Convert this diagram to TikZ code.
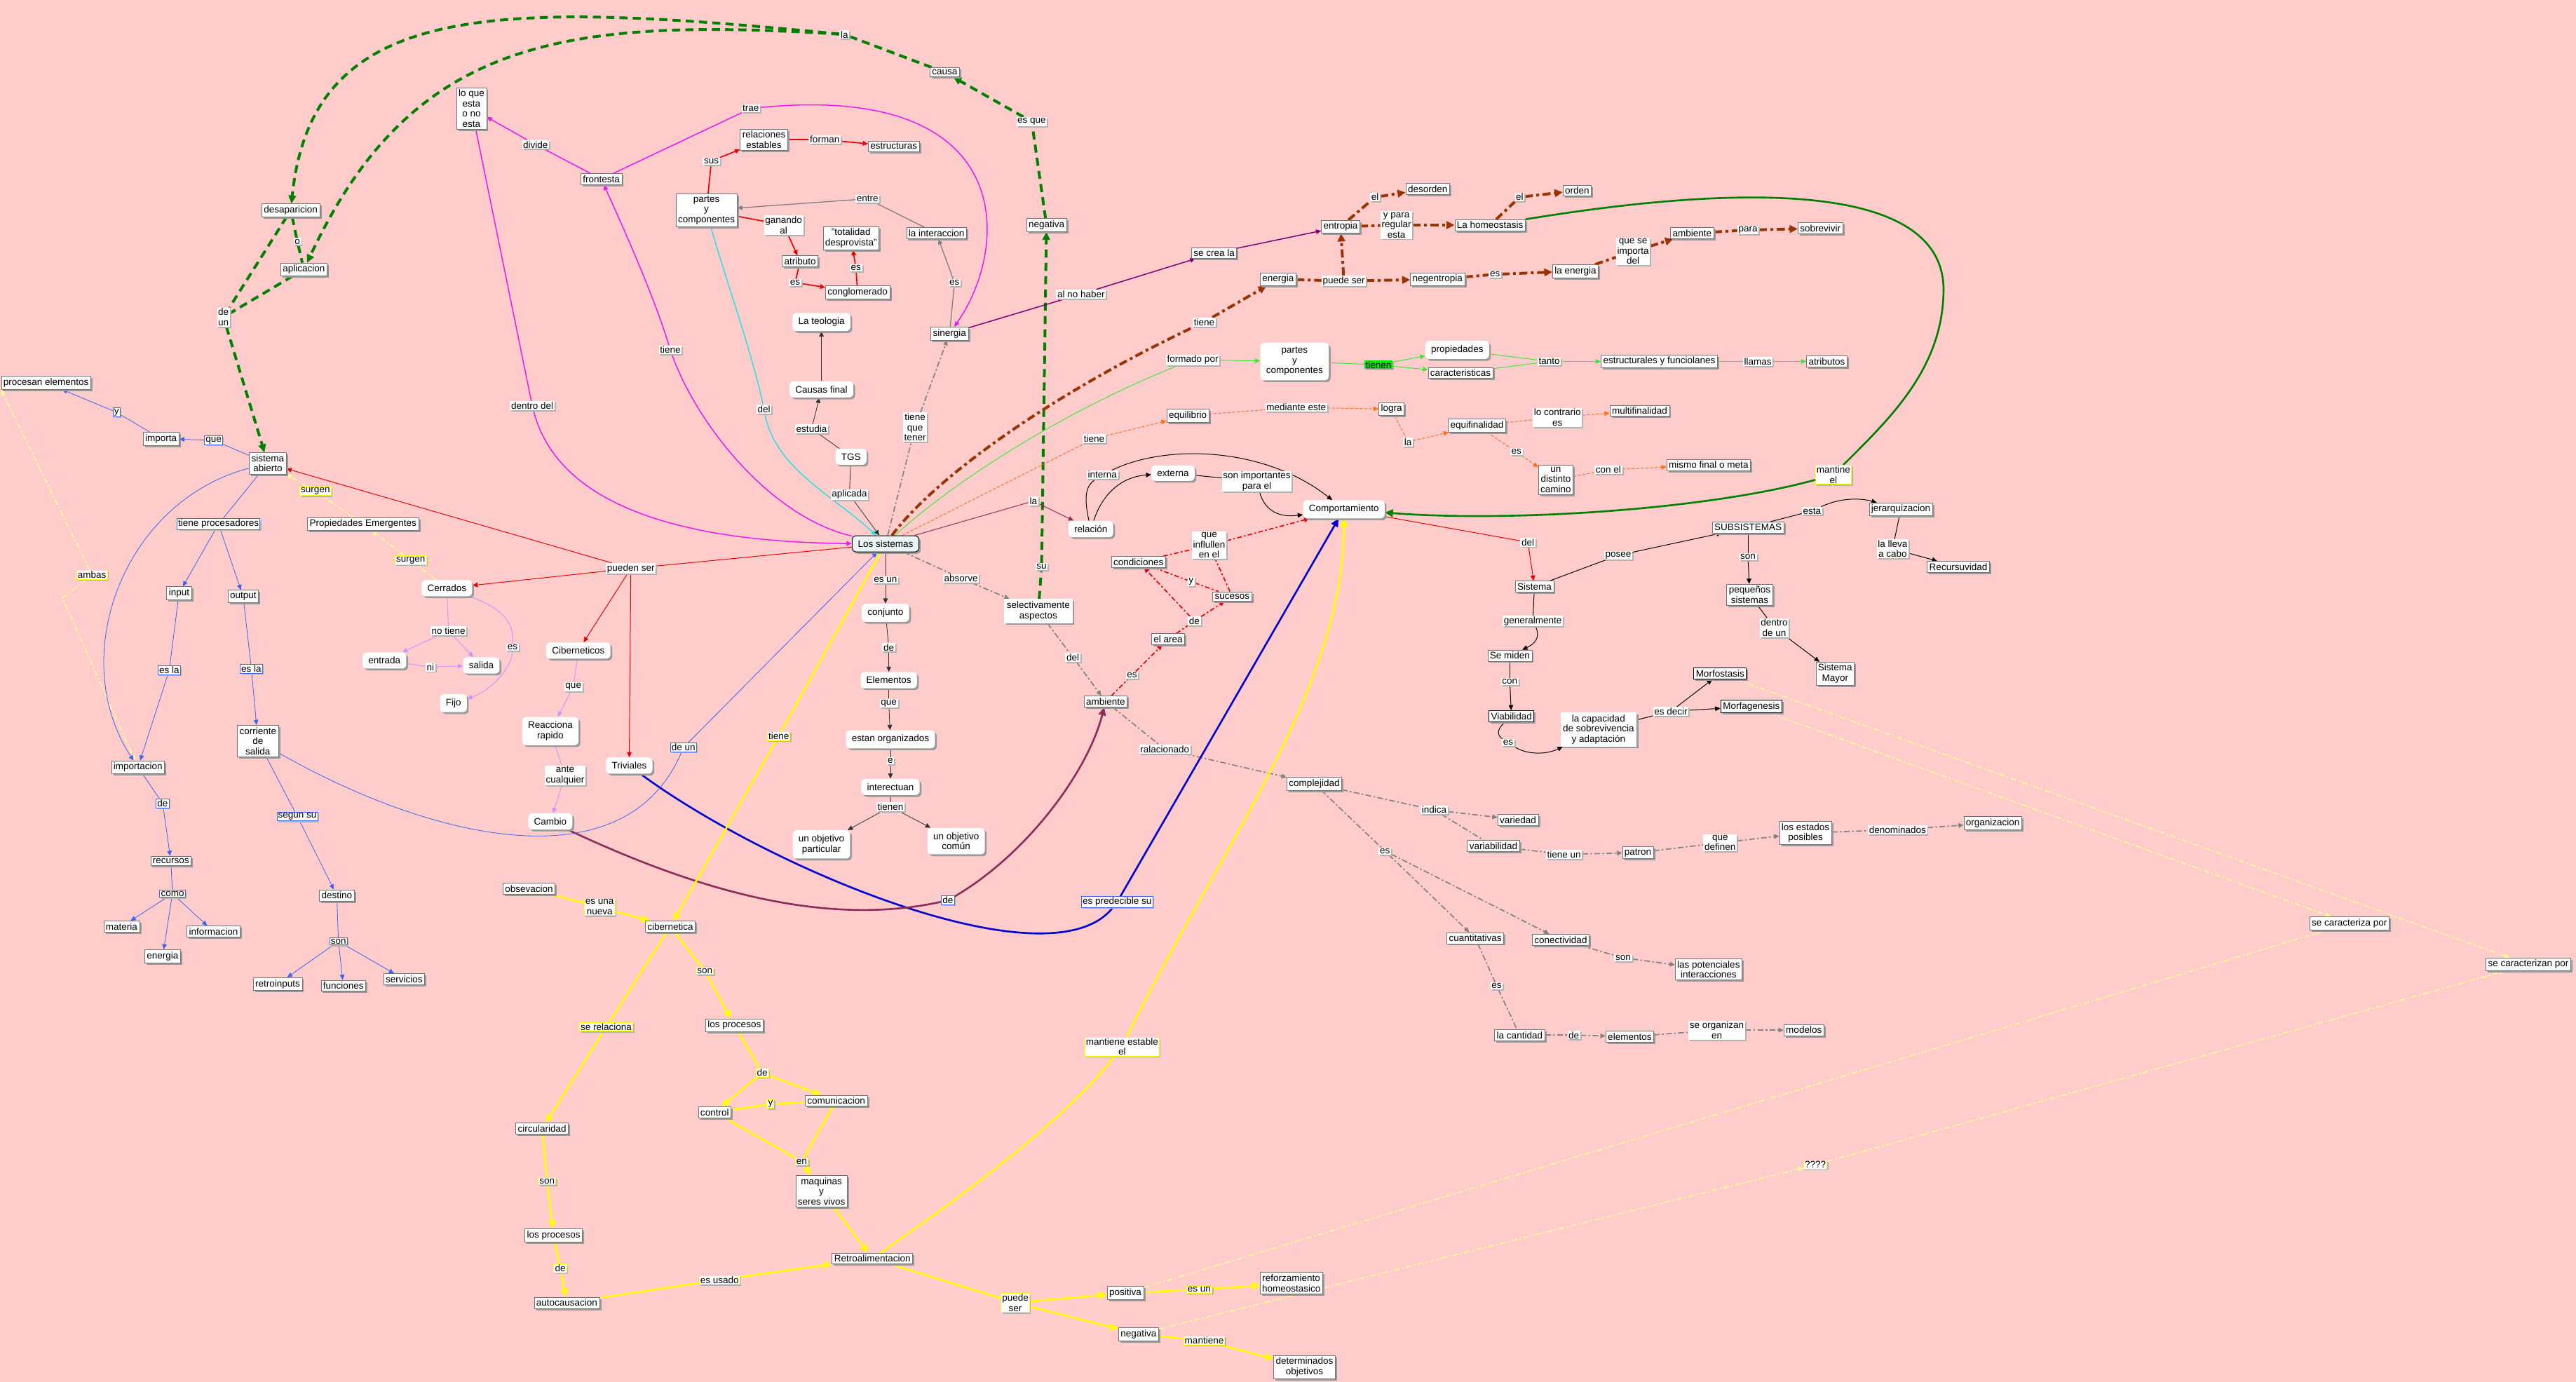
\documentclass[tikz,border=0pt]{standalone}
\usepackage{fontspec}
\setmainfont{Liberation Sans}
\usetikzlibrary{arrows.meta,shadows}
\pgfdeclarelayer{bgl}
\pgfdeclarelayer{edges}
\pgfsetlayers{bgl,edges,main}
\definecolor{bgpink}{RGB}{255,204,204}
\definecolor{dgreen}{RGB}{0,128,0}
\definecolor{magc}{RGB}{235,25,235}
\definecolor{cyanc}{RGB}{40,225,225}
\definecolor{redc}{RGB}{230,0,0}
\definecolor{purpc}{RGB}{120,0,120}
\definecolor{brownc}{RGB}{153,51,0}
\definecolor{lgreenc}{RGB}{60,230,60}
\definecolor{orangec}{RGB}{255,110,30}
\definecolor{maroonc}{RGB}{140,45,90}
\definecolor{dblue}{RGB}{0,0,210}
\definecolor{lblue}{RGB}{60,100,240}
\definecolor{yelc}{RGB}{255,255,0}
\definecolor{lyel}{RGB}{255,255,150}
\definecolor{grayc}{RGB}{128,128,128}
\definecolor{lavc}{RGB}{200,150,255}
\definecolor{dgray}{RGB}{50,50,50}
\definecolor{sysfill}{RGB}{235,243,245}
\definecolor{tienenfill}{RGB}{0,230,0}
\tikzset{
 every node/.style={font=\fontsize{8.2}{8.8}\selectfont, align=center},
 shd/.style={drop shadow={shadow xshift=1.6pt,shadow yshift=-1.6pt,fill=black!40,opacity=1}},
 lshd/.style={drop shadow={shadow xshift=1.2pt,shadow yshift=-1.2pt,fill=black!30,opacity=1}},
 cbox/.style={rectangle,draw=black!55,line width=0.4pt,fill=white,inner xsep=1.8pt,inner ysep=1.8pt,shd},
 bbox/.style={cbox,draw=black,line width=0.8pt},
 nbox/.style={rectangle,fill=white,inner xsep=2.2pt,inner ysep=2.2pt,shd},
 rbox/.style={rectangle,rounded corners=3.5pt,fill=white,inner xsep=5pt,inner ysep=4pt,shd},
 sysbox/.style={rbox,draw=black,line width=0.6pt,fill=sysfill},
 lbl/.style={rectangle,fill=white,inner xsep=1pt,inner ysep=0.8pt,lshd},
 lblb/.style={lbl,draw=lblue,line width=0.5pt},
 lbly/.style={lbl,draw=yelc,line width=0.6pt},
 ar/.style={-{Triangle[length=4.5pt,width=4pt]}},
 arb/.style={-{Triangle[length=7pt,width=6.5pt]}},
 gd/.style={draw=dgreen,line width=2.4pt,dash pattern=on 7pt off 4.5pt},
 mg/.style={draw=magc,line width=0.9pt},
 cy/.style={draw=cyanc,line width=0.9pt},
 rd/.style={draw=redc,line width=0.6pt},
 rdm/.style={draw=redc,line width=1pt},
 pu/.style={draw=purpc,line width=0.9pt},
 bd/.style={draw=brownc,line width=2.4pt,dash pattern=on 7pt off 3pt on 2.5pt off 3pt},
 lg/.style={draw=lgreenc,line width=0.6pt},
 og/.style={draw=orangec,line width=0.6pt,dash pattern=on 2.5pt off 1.5pt},
 mr/.style={draw=maroonc,line width=0.6pt},
 mrt/.style={draw=maroonc,line width=1.6pt},
 bk/.style={draw=black,line width=0.6pt},
 dk/.style={draw=dgray,line width=0.5pt},
 gy/.style={draw=grayc,line width=0.8pt},
 gdd/.style={draw=grayc,line width=1pt,dash pattern=on 5pt off 2pt on 1.5pt off 2pt},
 rdd/.style={draw=redc,line width=1pt,dash pattern=on 4pt off 2pt on 1.5pt off 2pt},
 ly/.style={draw=lyel,line width=1pt,dash pattern=on 5pt off 2pt on 1.5pt off 2pt},
 yl/.style={draw=yelc,line width=1.6pt},
 db/.style={draw=dblue,line width=1.6pt},
 lb/.style={draw=lblue,line width=0.5pt},
 lv/.style={draw=lavc,line width=0.6pt},
 dg/.style={draw=dgreen,line width=1.6pt}
}
\begin{document}
\begin{tikzpicture}[x=0.05cm,y=-0.05cm]
\begin{pgfonlayer}{bgl}
\fill[bgpink] (0,0) rectangle (1568,841);
\end{pgfonlayer}
\useasboundingbox (0,0) rectangle (1568,841);

% ---------- concepts ----------
\node[cbox] (lqe) at (287,66) {lo que\\esta\\o no\\esta};
\node[cbox] (front) at (366,109) {frontesta};
\node[cbox] (desap) at (177,128) {desaparicion};
\node[cbox] (aplic) at (185,164) {aplicacion};
\node[cbox] (proc) at (28,233) {procesan elementos};
\node[cbox] (importa) at (98,267) {importa};
\node[cbox] (sabierto) at (163,282) {sistema\\abierto};
\node[cbox] (relest) at (465,85) {relaciones\\estables};
\node[cbox] (estruct) at (544,89) {estructuras};
\node[cbox] (partes) at (430,128) {partes\\y\\componentes};
\node[cbox] (interac) at (570,142) {la interaccion};
\node[cbox] (totalidad) at (518,145) {"totalidad\\desprovista"};
\node[cbox] (atributo) at (487,159) {atributo};
\node[cbox] (conglom) at (522,178) {conglomerado};
\node[rbox] (teologia) at (500,196) {La teologia};
\node[rbox] (causas) at (500,237) {Causas final};
\node[rbox] (tgs) at (518,278) {TGS};
\node[cbox] (sinergia) at (578,203) {sinergia};
\node[cbox] (causa) at (575,44) {causa};
\node[cbox] (negsup) at (637,137) {negativa};
\node[cbox] (secrea) at (739,154) {se crea la};
\node[cbox] (entropia) at (816,138) {entropia};
\node[cbox] (desorden) at (869,115) {desorden};
\node[cbox] (homeo) at (907,137) {La homeostasis};
\node[cbox] (orden) at (960,116) {orden};
\node[cbox] (energia) at (778,170) {energia};
\node[cbox] (negent) at (875,170) {negentropia};
\node[cbox] (laenergia) at (959,165) {la energia};
\node[cbox] (ambsup) at (1030,142) {ambiente};
\node[cbox] (sobrev) at (1108,139) {sobrevivir};
\node[rbox] (partesg) at (788,220) {partes\\y\\componentes};
\node[rbox] (propied) at (887,213) {propiedades};
\node[cbox] (caract) at (889,227) {caracteristicas};
\node[cbox] (estrfun) at (1010,220) {estructurales y funciolanes};
\node[cbox] (atribs) at (1112,220) {atributos};
\node[cbox] (equil) at (723,253) {equilibrio};
\node[cbox] (logra) at (847,249) {logra};
\node[cbox] (equif) at (899,259) {equifinalidad};
\node[cbox] (multif) at (998,250) {multifinalidad};
\node[cbox] (distinto) at (947,292) {un\\distinto\\camino};
\node[cbox] (mismo) at (1040,283) {mismo final o meta};
\node[sysbox] (lossist) at (539,331) {Los sistemas};
\node[rbox] (relacion) at (664,322) {relación};
\node[rbox] (externa) at (714,288) {externa};
\node[rbox] (comport) at (818,310) {Comportamiento};
\node[rbox] (conjunto) at (539,373) {conjunto};
\node[rbox] (elems) at (541,414) {Elementos};
\node[rbox] (estan) at (542,450) {estan organizados};
\node[rbox] (interect) at (542,479) {interectuan};
\node[rbox] (objpart) at (500,514) {un objetivo\\particular};
\node[rbox] (objcom) at (582,512) {un objetivo\\común};
\node[cbox] (condic) at (693,342) {condiciones};
\node[cbox] (sucesos) at (750,363) {sucesos};
\node[cbox] (elarea) at (711,389) {el area};
\node[cbox] (ambinf) at (673,427) {ambiente};
\node[nbox] (selasp) at (632,372) {selectivamente\\aspectos};
\node[cbox] (complej) at (800,477) {complejidad};
\node[cbox] (variedad) at (924,499) {variedad};
\node[cbox] (variab) at (909,515) {variabilidad};
\node[cbox] (patron) at (997,519) {patron};
\node[cbox] (estados) at (1099,507) {los estados\\posibles};
\node[cbox] (organiz) at (1213,501) {organizacion};
\node[cbox] (cuant) at (898,571) {cuantitativas};
\node[cbox] (conect) at (950,572) {conectividad};
\node[cbox] (potenc) at (1040,590) {las potenciales\\interacciones};
\node[cbox] (cantidad) at (925,630) {la cantidad};
\node[cbox] (elementos) at (992,631) {elementos};
\node[cbox] (modelos) at (1098,627) {modelos};
\node[cbox] (sistema) at (934,357) {Sistema};
\node[cbox] (subsis) at (1064,321) {SUBSISTEMAS};
\node[cbox] (jerarq) at (1157,310) {jerarquizacion};
\node[cbox] (recurs) at (1192,345) {Recursuvidad};
\node[cbox] (pequenos) at (1065,362) {pequeños\\sistemas};
\node[cbox] (smayor) at (1117,410) {Sistema\\Mayor};
\node[cbox] (semiden) at (919,399) {Se miden};
\node[bbox] (viab) at (920,436) {Viabilidad};
\node[nbox] (capac) at (973,444) {la capacidad\\de sobrevivencia\\y adaptación};
\node[bbox] (morfost) at (1047,410) {Morfostasis};
\node[bbox] (morfag) at (1066,430) {Morfagenesis};
\node[cbox] (secarac) at (1430,562) {se caracteriza por};
\node[cbox] (secaracn) at (1539,587) {se caracterizan por};
\node[cbox] (refuerzo) at (786,781) {reforzamiento\\homeostasico};
\node[cbox] (determ) at (794,832) {determinados\\objetivos};
\node[cbox] (positiva) at (685,787) {positiva};
\node[cbox] (neginf) at (693,812) {negativa};
\node[cbox] (retro) at (531,766) {Retroalimentacion};
\node[cbox] (maquinas) at (500,725) {maquinas\\y\\seres vivos};
\node[cbox] (control) at (435,677) {control};
\node[cbox] (comunic) at (509,670) {comunicacion};
\node[cbox] (procsup) at (447,624) {los procesos};
\node[cbox] (ciber) at (408,564) {cibernetica};
\node[cbox] (obsev) at (322,541) {obsevacion};
\node[cbox] (circular) at (330,687) {circularidad};
\node[cbox] (procinf) at (337,752) {los procesos};
\node[cbox] (autoc) at (345,793) {autocausacion};
\node[cbox] (propem) at (221,319) {Propiedades Emergentes};
\node[rbox] (cerrados) at (272,358) {Cerrados};
\node[rbox] (entrada) at (234,402) {entrada};
\node[rbox] (salida) at (293,405) {salida};
\node[rbox] (fijo) at (276,428) {Fijo};
\node[rbox] (cibertcos) at (352,396) {Ciberneticos};
\node[rbox] (reacc) at (335,445) {Reacciona\\rapido};
\node[rbox] (cambio) at (335,500) {Cambio};
\node[rbox] (triviales) at (383,466) {Triviales};
\node[cbox] (input) at (109,361) {input};
\node[cbox] (output) at (148,363) {output};
\node[cbox] (corriente) at (157,451) {corriente\\de\\salida};
\node[cbox] (importac) at (84,467) {importacion};
\node[cbox] (recursos) at (104,524) {recursos};
\node[cbox] (destino) at (205,545) {destino};
\node[cbox] (materia) at (74,564) {materia};
\node[cbox] (energiainf) at (99,582) {energia};
\node[cbox] (informac) at (130,567) {informacion};
\node[cbox] (retroin) at (169,599) {retroinputs};
\node[cbox] (funciones) at (209,600) {funciones};
\node[cbox] (servicios) at (246,596) {servicios};

% ---------- linking phrases ----------
\node[lbl] (Ldivide) at (326,88) {divide};
\node[lbl] (Lo) at (181,147) {o};
\node[lbl] (Ldeun) at (136,193) {de\\un};
\node[lblb] (Ly1) at (71,251) {y};
\node[lblb] (Lque1) at (130,268) {que};
\node[lbl] (Lla) at (514,21) {la};
\node[lbl] (Lesque) at (628,74) {es que};
\node[lbl] (Ltrae) at (457,66) {trae};
\node[lbl] (Lforman) at (502,85) {forman};
\node[lbl] (Lsus) at (433,98) {sus};
\node[lbl] (Lentre) at (528,121) {entre};
\node[lbl] (Lganando) at (477,137) {ganando\\al};
\node[lbl] (Les1) at (484,172) {es};
\node[lbl] (Les2) at (521,163) {es};
\node[lbl] (Lestudia) at (494,261) {estudia};
\node[lbl] (Laplicada) at (517,301) {aplicada};
\node[lbl] (Les3) at (581,172) {es};
\node[lbl] (Ltqt) at (557,260) {tiene\\que\\tener};
\node[lbl] (Lalno) at (658,179) {al no haber};
\node[lbl] (Ltieneb) at (733,196) {tiene};
\node[lbl] (Lformado) at (726,219) {formado por};
\node[lbl] (Ltieneo) at (666,267) {tiene};
\node[lbl] (Ldelc) at (465,249) {del};
\node[lbl] (Ltienem) at (408,213) {tiene};
\node[lbl] (Ldentro) at (324,247) {dentro del};
\node[lbl] (Lel1) at (837,120) {el};
\node[lbl] (Lypara) at (850,137) {y para\\regular\\esta};
\node[lbl] (Lel2) at (925,120) {el};
\node[lbl] (Lpuede) at (818,171) {puede ser};
\node[lbl] (Les4) at (910,167) {es};
\node[lbl] (Lqsi) at (994,153) {que se\\importa\\del};
\node[lbl] (Lpara) at (1064,140) {para};
\node[lbl,fill=tienenfill] (Ltienen) at (839,222) {tienen};
\node[lbl] (Ltanto) at (943,220) {tanto};
\node[lbl] (Lllamas) at (1070,220) {llamas};
\node[lbl] (Lmediante) at (789,248) {mediante este};
\node[lbl] (Lla2) at (857,269) {la};
\node[lbl] (Lcontrario) at (948,254) {lo contrario\\es};
\node[lbl] (Les5) at (923,275) {es};
\node[lbl] (Lconel) at (979,286) {con el};
\node[lbly] (Lmantine) at (1116,289) {mantine\\el};
\node[lbl] (Lsonimp) at (765,293) {son importantes\\para el};
\node[lbl] (Linterna) at (671,289) {interna};
\node[lbl] (Lla3) at (629,305) {la};
\node[lbl] (Lesun2) at (539,353) {es un};
\node[lbl] (Lde7) at (541,394) {de};
\node[lbl] (Lque3) at (541,428) {que};
\node[lbl] (Le) at (542,463) {e};
\node[lbl] (Ltienen2) at (542,491) {tienen};
\node[lbl] (Lqinf) at (736,332) {que\\influllen\\en el};
\node[lbl] (Ly2) at (725,354) {y};
\node[lbl] (Lde1) at (727,378) {de};
\node[lbl] (Les6) at (689,411) {es};
\node[lbl] (Ldel2) at (653,400) {del};
\node[lbl] (Labsorve) at (585,352) {absorve};
\node[lbl] (Lsu) at (634,345) {su};
\node[lbl] (Lralac) at (709,456) {ralacionado};
\node[lbl] (Lindica) at (873,493) {indica};
\node[lbl] (Ltieneun) at (952,520) {tiene un};
\node[lbl] (Lqdef) at (1047,513) {que\\definen};
\node[lbl] (Ldenom) at (1155,505) {denominados};
\node[lbl] (Les7) at (843,518) {es};
\node[lbl] (Lson1) at (988,583) {son};
\node[lbl] (Les8) at (911,600) {es};
\node[lbl] (Lde2) at (958,630) {de};
\node[lbl] (Lseorg) at (1045,627) {se organizan\\en};
\node[lbl] (Ldel3) at (930,330) {del};
\node[lbl] (Lposee) at (985,338) {posee};
\node[lbl] (Lesta) at (1103,311) {esta};
\node[lbl] (Llleva) at (1152,334) {la lleva\\a cabo};
\node[lbl] (Lson2) at (1064,339) {son};
\node[lbl] (Ldentro2) at (1080,382) {dentro\\de un};
\node[lbl] (Lgeneral) at (933,378) {generalmente};
\node[lbl] (Lcon) at (919,415) {con};
\node[lbl] (Les9) at (918,452) {es};
\node[lbl] (Lesdecir) at (1017,433) {es decir};
\node[lbly] (Lmantest) at (683,637) {mantiene estable\\el};
\node[lblb] (Lespred) at (680,549) {es predecible su};
\node[lblb] (Lde3) at (577,548) {de};
\node[lbly] (Ltieney) at (474,448) {tiene};
\node[lblb] (Ldeun2) at (416,455) {de un};
\node[lbly] (Lesuna) at (365,552) {es una\\nueva};
\node[lbly] (Lson3) at (429,591) {son};
\node[lbly] (Lde4) at (464,653) {de};
\node[lbly] (Ly3) at (469,672) {y};
\node[lbly] (Len) at (488,707) {en};
\node[lbly] (Lesusado) at (438,779) {es usado};
\node[lbly] (Lpuedeser) at (618,793) {puede\\ser};
\node[lbly] (Lesun) at (730,785) {es un};
\node[lbly] (Lmantiene) at (733,816) {mantiene};
\node[lbly] (Lserel) at (369,625) {se relaciona};
\node[lbly] (Lson4) at (333,719) {son};
\node[lbly] (Lde5) at (341,772) {de};
\node[lbl] (Lpueden) at (384,346) {pueden ser};
\node[lbly] (Lsurgen1) at (192,299) {surgen};
\node[lbly] (Lsurgen2) at (250,341) {surgen};
\node[lbl] (Lnotiene) at (273,384) {no tiene};
\node[lbl] (Lni) at (262,406) {ni};
\node[lbl] (Les10) at (312,394) {es};
\node[lbl] (Lque2) at (349,418) {que};
\node[lbl] (Lante) at (344,472) {ante\\cualquier};
\node[lblb] (Ltproc) at (133,319) {tiene procesadores};
\node[lblb] (Lesla1) at (103,408) {es la};
\node[lblb] (Lesla2) at (153,407) {es la};
\node[lblb] (Lde6) at (99,489) {de};
\node[lblb] (Lcomo) at (105,544) {como};
\node[lblb] (Lsegun) at (181,497) {segun su};
\node[lblb] (Lson5) at (206,573) {son};
\node[lbly] (Lambas) at (56,350) {ambas};
\node[lbly] (Lqqq) at (1105,709) {????};

\coordinate (hk) at (1183,178);
\coordinate (akink) at (38,364);

% ---------- connectors ----------
\begin{pgfonlayer}{edges}
% green dashed
\draw[gd] (negsup) -- (Lesque);
\draw[gd,arb] (Lesque) -- (causa);
\draw[gd] (causa) -- (Lla);
\draw[gd,arb] (Lla) .. controls (300,0) and (190,0) .. (desap);
\draw[gd,arb] (Lla) .. controls (340,10) and (250,25) .. (aplic);
\draw[gd] (desap) -- (Lo);
\draw[gd] (Lo) -- (aplic);
\draw[gd] (desap) -- (Ldeun);
\draw[gd] (aplic) -- (Ldeun);
\draw[gd,arb] (Ldeun) -- (sabierto);
\draw[gd,arb] (Lsu) -- (negsup);
\draw[gd] (selasp) -- (Lsu);
% magenta
\draw[mg] (front) -- (Ldivide);
\draw[mg,ar] (Ldivide) -- (lqe);
\draw[mg] (front) -- (Ltrae);
\draw[mg,ar] (Ltrae) .. controls (620,50) and (615,150) .. (sinergia);
\draw[mg] (lqe) -- (Ldentro);
\draw[mg,ar] (Ldentro) .. controls (340,310) and (420,330) .. (lossist);
\draw[mg] (lossist) .. controls (470,315) and (425,260) .. (Ltienem);
\draw[mg,ar] (Ltienem) .. controls (398,180) and (380,140) .. (front);
% cyan
\draw[cy] (partes) .. controls (440,165) and (458,215) .. (Ldelc);
\draw[cy,ar] (Ldelc) .. controls (472,285) and (505,300) .. (lossist);
% red top
\draw[rdm] (partes) -- (Lsus); \draw[rdm,ar] (Lsus) -- (relest);
\draw[rdm] (relest) -- (Lforman); \draw[rdm,ar] (Lforman) -- (estruct);
\draw[rdm] (partes) -- (Lganando); \draw[rdm,ar] (Lganando) -- (atributo);
\draw[rdm] (atributo) -- (Les1); \draw[rdm,ar] (Les1) -- (conglom);
\draw[rdm] (conglom) -- (Les2); \draw[rdm,ar] (Les2) -- (totalidad);
% gray
\draw[gy] (interac) -- (Lentre); \draw[gy,ar] (Lentre) -- (partes);
\draw[gy] (sinergia) -- (Les3); \draw[gy,ar] (Les3) -- (interac);
% dark
\draw[dk] (tgs) -- (Lestudia); \draw[dk,ar] (Lestudia) -- (causas);
\draw[dk,ar] (causas) -- (teologia);
\draw[dk] (tgs) -- (Laplicada); \draw[dk,ar] (Laplicada) -- (lossist);
\draw[dk] (lossist) -- (Lesun2); \draw[dk,ar] (Lesun2) -- (conjunto);
\draw[dk] (conjunto) -- (Lde7); \draw[dk,ar] (Lde7) -- (elems);
\draw[dk] (elems) -- (Lque3); \draw[dk,ar] (Lque3) -- (estan);
\draw[dk] (estan) -- (Le); \draw[dk,ar] (Le) -- (interect);
\draw[dk] (interect) -- (Ltienen2); \draw[dk,ar] (Ltienen2) -- (objpart); \draw[dk,ar] (Ltienen2) -- (objcom);
% gray dash dot
\draw[gdd] (lossist) -- (Ltqt); \draw[gdd,ar] (Ltqt) -- (sinergia);
% purple
\draw[pu] (sinergia) -- (Lalno); \draw[pu,ar] (Lalno) -- (secrea); \draw[pu,ar] (secrea) -- (entropia);
% brown
\draw[bd] (lossist) .. controls (570,290) and (640,240) .. (Ltieneb);
\draw[bd,arb] (Ltieneb) -- (energia);
\draw[bd] (energia) -- (Lpuede); \draw[bd,arb] (Lpuede) -- (negent);
\draw[bd,arb] (Lpuede) -- (entropia);
\draw[bd] (entropia) -- (Lel1); \draw[bd,arb] (Lel1) -- (desorden);
\draw[bd] (entropia) -- (Lypara); \draw[bd,arb] (Lypara) -- (homeo);
\draw[bd] (homeo) -- (Lel2); \draw[bd,arb] (Lel2) -- (orden);
\draw[bd] (negent) -- (Les4); \draw[bd,arb] (Les4) -- (laenergia);
\draw[bd] (laenergia) -- (Lqsi); \draw[bd,arb] (Lqsi) -- (ambsup);
\draw[bd] (ambsup) -- (Lpara); \draw[bd,arb] (Lpara) -- (sobrev);
% dark green solid
\draw[dg] (homeo) .. controls (1060,112) and (1185,110) .. (hk) .. controls (1182,225) and (1150,255) .. (Lmantine);
\draw[dg,arb] (Lmantine) .. controls (1040,310) and (920,318) .. (comport);
% light green
\draw[lg] (lossist) .. controls (590,285) and (660,245) .. (Lformado);
\draw[lg,ar] (Lformado) -- (partesg);
\draw[lg] (partesg) -- (Ltienen);
\draw[lg,ar] (Ltienen) -- (propied); \draw[lg,ar] (Ltienen) -- (caract);
\draw[lg] (propied) -- (Ltanto); \draw[lg] (caract) -- (Ltanto);
\draw[lg,ar] (Ltanto) -- (estrfun);
\draw[lg] (estrfun) -- (Lllamas); \draw[lg,ar] (Lllamas) -- (atribs);
% orange
\draw[og] (lossist) -- (Ltieneo); \draw[og,ar] (Ltieneo) -- (equil);
\draw[og] (equil) -- (Lmediante); \draw[og,ar] (Lmediante) -- (logra);
\draw[og] (logra) -- (Lla2); \draw[og,ar] (Lla2) -- (equif);
\draw[og] (equif) -- (Lcontrario); \draw[og,ar] (Lcontrario) -- (multif);
\draw[og] (equif) -- (Les5); \draw[og,ar] (Les5) -- (distinto);
\draw[og] (distinto) -- (Lconel); \draw[og,ar] (Lconel) -- (mismo);
% maroon thin and black relations
\draw[mr] (lossist) -- (Lla3); \draw[mr,ar] (Lla3) -- (relacion);
\draw[bk] (relacion) .. controls (659,300) and (662,295) .. (Linterna);
\draw[bk,ar] (Linterna) .. controls (710,270) and (770,272) .. (comport);
\draw[bk,ar] (relacion) .. controls (672,298) and (685,290) .. (externa);
\draw[bk] (externa) -- (Lsonimp);
\draw[bk,ar] (Lsonimp) .. controls (770,312) and (780,315) .. (comport);
% red dash dot
\draw[rdd] (ambinf) -- (Les6); \draw[rdd,ar] (Les6) -- (elarea);
\draw[rdd] (elarea) -- (Lde1); \draw[rdd,ar] (Lde1) -- (condic); \draw[rdd,ar] (Lde1) -- (sucesos);
\draw[rdd] (condic) -- (Ly2); \draw[rdd] (Ly2) -- (sucesos);
\draw[rdd] (condic) -- (Lqinf); \draw[rdd] (sucesos) -- (Lqinf);
\draw[rdd,ar] (Lqinf) -- (comport);
% gray dash dot
\draw[gdd] (lossist) -- (Labsorve); \draw[gdd,ar] (Labsorve) -- (selasp);
\draw[gdd] (selasp) -- (Ldel2); \draw[gdd,ar] (Ldel2) -- (ambinf);
\draw[gdd] (ambinf) -- (Lralac); \draw[gdd,ar] (Lralac) -- (complej);
\draw[gdd] (complej) -- (Lindica); \draw[gdd,ar] (Lindica) -- (variedad); \draw[gdd] (Lindica) -- (variab);
\draw[gdd] (variab) -- (Ltieneun); \draw[gdd,ar] (Ltieneun) -- (patron);
\draw[gdd] (patron) -- (Lqdef); \draw[gdd,ar] (Lqdef) -- (estados);
\draw[gdd] (estados) -- (Ldenom); \draw[gdd,ar] (Ldenom) -- (organiz);
\draw[gdd] (complej) -- (Les7); \draw[gdd,ar] (Les7) -- (cuant); \draw[gdd,ar] (Les7) -- (conect);
\draw[gdd] (conect) -- (Lson1); \draw[gdd,ar] (Lson1) -- (potenc);
\draw[gdd] (cuant) -- (Les8); \draw[gdd] (Les8) -- (cantidad);
\draw[gdd] (cantidad) -- (Lde2); \draw[gdd,ar] (Lde2) -- (elementos);
\draw[gdd] (elementos) -- (Lseorg); \draw[gdd,ar] (Lseorg) -- (modelos);
% system branch
\draw[rd] (comport) -- (Ldel3); \draw[rd,ar] (Ldel3) -- (sistema);
\draw[bk] (sistema) -- (Lposee); \draw[bk,ar] (Lposee) -- (subsis);
\draw[bk] (subsis) -- (Lesta); \draw[bk,ar] (Lesta) .. controls (1120,303) and (1132,303) .. (jerarq);
\draw[bk] (jerarq) -- (Llleva); \draw[bk,ar] (Llleva) -- (recurs);
\draw[bk] (subsis) -- (Lson2); \draw[bk,ar] (Lson2) -- (pequenos);
\draw[bk] (pequenos) -- (Ldentro2); \draw[bk,ar] (Ldentro2) -- (smayor);
\draw[bk] (sistema) -- (Lgeneral); \draw[bk,ar] (Lgeneral) .. controls (938,388) and (934,392) .. (semiden);
\draw[bk] (semiden) -- (Lcon); \draw[bk,ar] (Lcon) -- (viab);
\draw[bk] (viab) .. controls (910,445) and (912,448) .. (Les9);
\draw[bk,ar] (Les9) .. controls (930,460) and (942,459) .. (capac);
\draw[bk] (capac) -- (Lesdecir); \draw[bk,ar] (Lesdecir) -- (morfost); \draw[bk,ar] (Lesdecir) -- (morfag);
% light yellow dash dot
\draw[ly,ar] (morfost) -- (secaracn);
\draw[ly,ar] (morfag) -- (secarac);
\draw[ly] (positiva) -- (secarac);
\draw[ly,ar] (neginf) -- (Lqqq);
\draw[ly,ar] (Lqqq) -- (secaracn);
\draw[ly,ar] (Lambas) -- (proc.south west);
\draw[ly,ar] (Lambas) -- (akink) -- (importac);
\draw[ly] (propem) -- (Lsurgen1); \draw[ly,ar] (Lsurgen1) -- (sabierto);
\draw[ly] (cerrados) -- (Lsurgen2); \draw[ly,ar] (Lsurgen2) -- (propem);
% lavender
\draw[lv] (cerrados) -- (Lnotiene); \draw[lv,ar] (Lnotiene) -- (entrada); \draw[lv,ar] (Lnotiene) -- (salida);
\draw[lv] (entrada) -- (Lni); \draw[lv,ar] (Lni) -- (salida);
\draw[lv] (cerrados) .. controls (305,370) and (313,378) .. (Les10);
\draw[lv,ar] (Les10) .. controls (312,405) and (300,420) .. (fijo);
\draw[lv] (cibertcos) -- (Lque2); \draw[lv,ar] (Lque2) -- (reacc);
\draw[lv] (reacc) -- (Lante); \draw[lv,ar] (Lante) -- (cambio);
% red
\draw[rd] (lossist) -- (Lpueden);
\draw[rd,ar] (Lpueden) -- (sabierto);
\draw[rd,ar] (Lpueden) -- (cerrados);
\draw[rd,ar] (Lpueden) -- (cibertcos);
\draw[rd,ar] (Lpueden) -- (triviales);
% blue thick
\draw[db] (triviales) .. controls (470,530) and (640,600) .. (Lespred);
\draw[db,arb] (Lespred) -- (comport);
% maroon thick
\draw[mrt] (cambio) .. controls (420,540) and (500,565) .. (Lde3);
\draw[mrt,arb] (Lde3) .. controls (625,520) and (662,470) .. (ambinf);
% blue thin
\draw[lb] (corriente) .. controls (260,510) and (380,540) .. (Ldeun2);
\draw[lb,ar] (Ldeun2) -- (lossist);
\draw[lb] (sabierto) -- (Lque1); \draw[lb,ar] (Lque1) -- (importa);
\draw[lb] (importa) -- (Ly1); \draw[lb,ar] (Ly1) -- (proc);
\draw[lb] (sabierto) -- (Ltproc); \draw[lb,ar] (Ltproc) -- (input); \draw[lb,ar] (Ltproc) -- (output);
\draw[lb,ar] (sabierto) .. controls (75,305) and (40,400) .. (importac);
\draw[lb] (input) -- (Lesla1); \draw[lb,ar] (Lesla1) -- (importac);
\draw[lb] (output) -- (Lesla2); \draw[lb,ar] (Lesla2) -- (corriente);
\draw[lb] (importac) -- (Lde6); \draw[lb,ar] (Lde6) -- (recursos);
\draw[lb] (recursos) -- (Lcomo); \draw[lb,ar] (Lcomo) -- (materia); \draw[lb,ar] (Lcomo) -- (energiainf); \draw[lb,ar] (Lcomo) -- (informac);
\draw[lb] (corriente) -- (Lsegun); \draw[lb,ar] (Lsegun) -- (destino);
\draw[lb] (destino) -- (Lson5); \draw[lb,ar] (Lson5) -- (retroin); \draw[lb,ar] (Lson5) -- (funciones); \draw[lb,ar] (Lson5) -- (servicios);
% yellow
\draw[yl] (lossist) -- (Ltieney); \draw[yl,arb] (Ltieney) -- (ciber);
\draw[yl] (obsev) -- (Lesuna); \draw[yl,arb] (Lesuna) -- (ciber);
\draw[yl] (ciber) -- (Lson3); \draw[yl,arb] (Lson3) -- (procsup);
\draw[yl] (procsup) -- (Lde4); \draw[yl,arb] (Lde4) -- (control); \draw[yl,arb] (Lde4) -- (comunic);
\draw[yl] (control) -- (Ly3); \draw[yl] (Ly3) -- (comunic);
\draw[yl] (control) -- (Len); \draw[yl] (comunic) -- (Len); \draw[yl,arb] (Len) -- (maquinas);
\draw[yl,arb] (maquinas) -- (retro);
\draw[yl] (ciber) -- (Lserel); \draw[yl,arb] (Lserel) -- (circular);
\draw[yl] (circular) -- (Lson4); \draw[yl,arb] (Lson4) -- (procinf);
\draw[yl] (procinf) -- (Lde5); \draw[yl,arb] (Lde5) -- (autoc);
\draw[yl] (autoc) -- (Lesusado); \draw[yl,arb] (Lesusado) -- (retro);
\draw[yl] (retro) .. controls (590,725) and (650,680) .. (Lmantest);
\draw[yl,arb] (Lmantest) .. controls (740,520) and (818,420) .. (comport);
\draw[yl] (retro) -- (Lpuedeser); \draw[yl,arb] (Lpuedeser) -- (positiva); \draw[yl,arb] (Lpuedeser) -- (neginf);
\draw[yl] (positiva) -- (Lesun); \draw[yl,arb] (Lesun) -- (refuerzo);
\draw[yl] (neginf) -- (Lmantiene); \draw[yl,arb] (Lmantiene) -- (determ);
\end{pgfonlayer}
\end{tikzpicture}
\end{document}
